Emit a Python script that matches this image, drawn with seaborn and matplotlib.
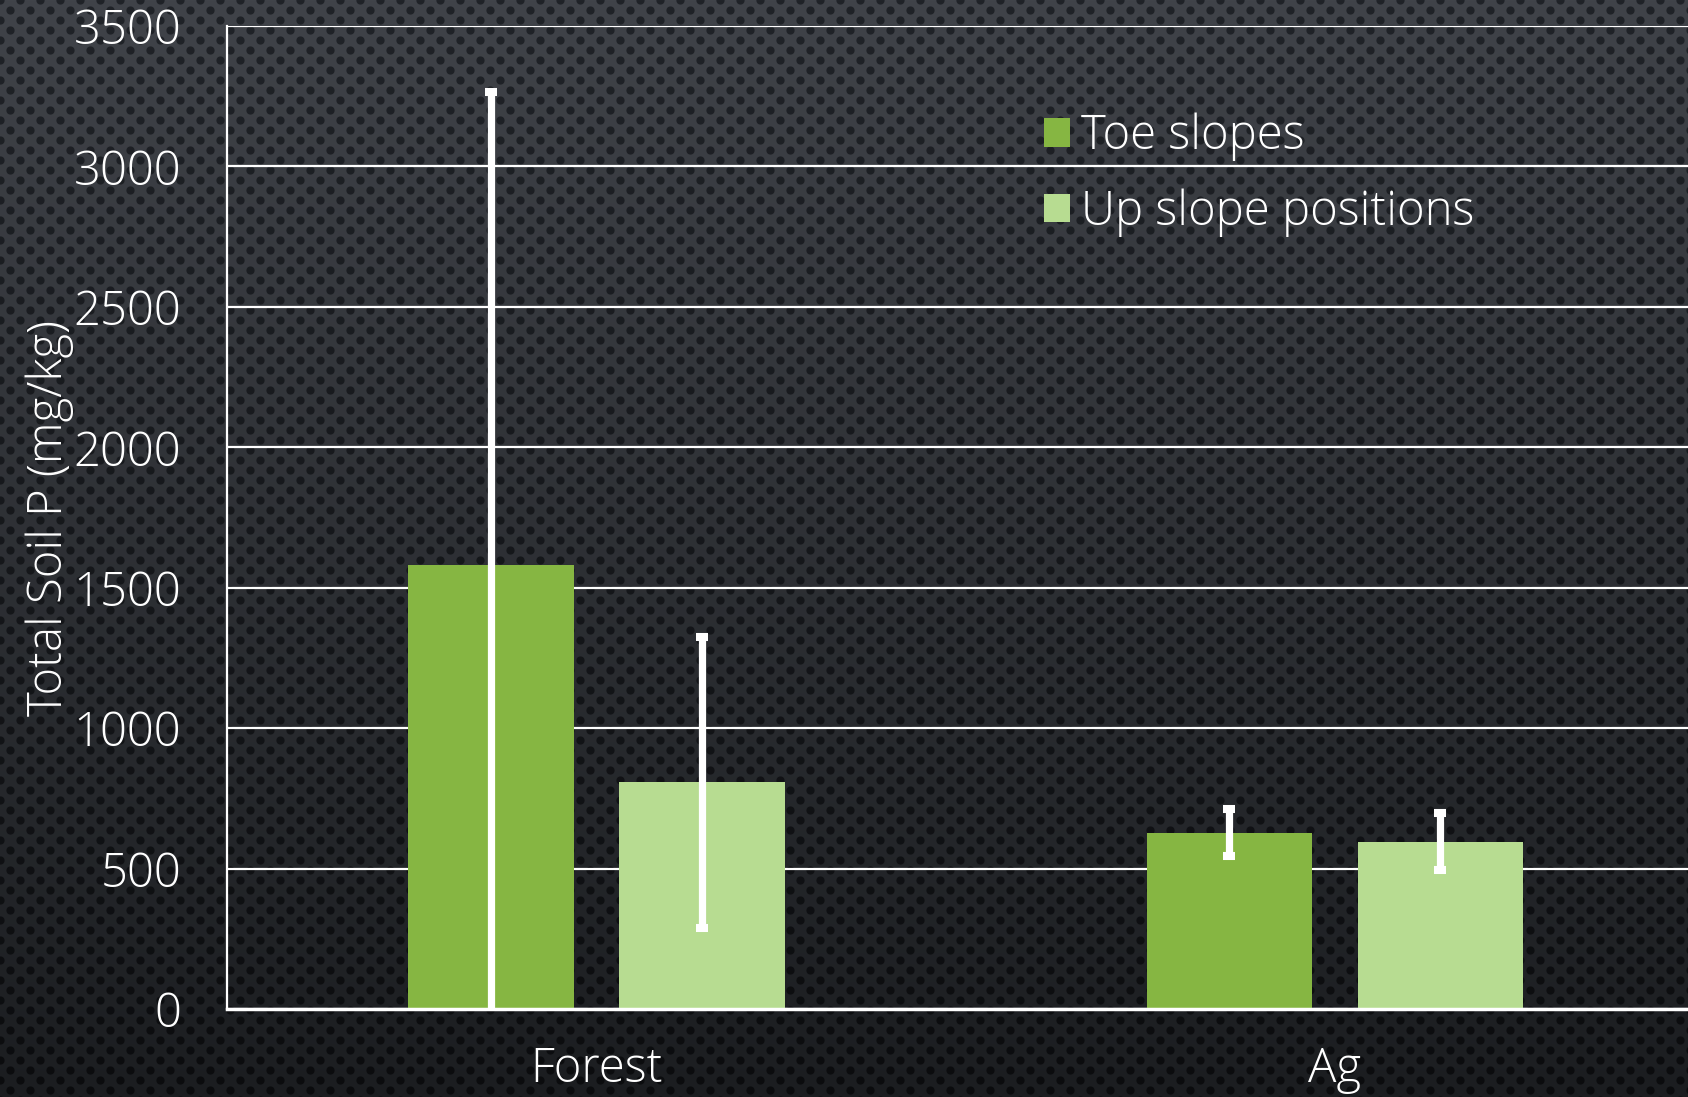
"""
Total soil P — toe slopes vs up slope positions, Forest vs Ag.
Bar chart with white error bars on a dark perforated background.
"""
import numpy as np
import pandas as pd
import matplotlib
matplotlib.use("Agg")
import matplotlib.pyplot as plt
import seaborn as sns

# ── Data ──────────────────────────────────────────────────────────────────
LAND_USE  = ["Forest", "Ag"]
POSITIONS = ["Toe slopes", "Up slope positions"]

TOE_MEAN = [1580, 628]
TOE_ERR  = [1685, 84]
UP_MEAN  = [807, 596]
UP_ERR   = [518, 101]

Y_TICKS = [0, 500, 1000, 1500, 2000, 2500, 3000, 3500]

COLORS = ["#86B642", "#B7DC91"]

df = pd.DataFrame({
    "land_use": LAND_USE * 2,
    "position": [POSITIONS[0]] * 2 + [POSITIONS[1]] * 2,
    "p":        TOE_MEAN + UP_MEAN,
    "err":      TOE_ERR + UP_ERR,
})

# ── Style ─────────────────────────────────────────────────────────────────
sns.set_theme(style="dark")
plt.rcParams["font.family"] = ["Open Sans", "DejaVu Sans"]
plt.rcParams["font.weight"] = 300
FS = 34

W, H = 1688, 1097
fig = plt.figure(figsize=(W / 100, H / 100), dpi=100)

# background: dark gradient with a staggered dot pattern
bg = fig.add_axes([0, 0, 1, 1], zorder=-10)
yy, xx = np.mgrid[0:H, 0:W].astype(float)
u = np.mod(xx, 20)
v = np.mod(yy, 20)
d = np.min(np.stack([
    np.hypot(u, v), np.hypot(u - 20, v), np.hypot(u, v - 20),
    np.hypot(u - 20, v - 20), np.hypot(u - 10, v - 10),
]), axis=0)
mask = np.clip(4.6 - d, 0, 1)[..., None]
t = (yy / H)[..., None]
base = np.array([64, 67, 73]) * (1 - t) + np.array([27, 29, 32]) * t
dots = np.array([32, 35, 40]) * (1 - t) + np.array([11, 12, 14]) * t
img = (base * (1 - mask) + dots * mask) / 255.0
bg.imshow(img, aspect="auto", interpolation="nearest")
bg.set_axis_off()

# ── Chart ─────────────────────────────────────────────────────────────────
ax = fig.add_axes([227 / W, 1 - 1009 / H, 1 - 227 / W, (1009 - 26) / H])
ax.set_facecolor("none")

sns.barplot(
    data=df, x="land_use", y="p", hue="position",
    palette=COLORS, saturation=1, width=0.571, gap=0.214,
    errorbar=None, linewidth=0, ax=ax,
)

# error bars on top of each bar
for container, pos in zip(ax.containers, POSITIONS):
    sub = df[df["position"] == pos]
    xs = [b.get_x() + b.get_width() / 2 for b in container]
    hs = [b.get_height() for b in container]
    ax.errorbar(xs, hs, yerr=sub["err"].to_numpy(), fmt="none",
                ecolor="white", elinewidth=5.2, capsize=4.3, capthick=5.8,
                zorder=5)

ax.set_ylim(0, 3500)
ax.set_xlim(-0.5, 1.478)
ax.set_yticks(Y_TICKS)
ax.yaxis.grid(True, color="white", linewidth=1.6)
ax.xaxis.grid(False)
ax.set_axisbelow(True)

for side in ["top", "right"]:
    ax.spines[side].set_visible(False)
ax.spines["left"].set_color("white")
ax.spines["left"].set_linewidth(1.6)
ax.spines["bottom"].set_color("white")
ax.spines["bottom"].set_linewidth(2.5)
ax.spines["bottom"].set_zorder(6)

ax.tick_params(axis="y", length=0, pad=33, labelsize=FS, labelcolor="white")
ax.tick_params(axis="x", length=0, pad=26, labelsize=FS, labelcolor="white")
for lbl in ax.get_xticklabels() + ax.get_yticklabels():
    lbl.set_fontweight(300)

ax.set_xlabel("")
ax.set_ylabel("Total Soil P (mg/kg)", fontsize=FS, color="white", fontweight=300)
ax.yaxis.set_label_coords(-0.105, 0.5)

old = ax.get_legend()
handles = old.legend_handles
labels = [tx.get_text() for tx in old.get_texts()]
leg = ax.legend(
    handles, labels, loc="upper left", bbox_to_anchor=(0.559, 0.912),
    frameon=False, fontsize=FS, labelcolor="white",
    handlelength=0.55, handleheight=0.55, handletextpad=0.25,
    labelspacing=0.58, borderpad=0, borderaxespad=0,
)
for tx in leg.get_texts():
    tx.set_fontweight(300)

fig.savefig("out.png", dpi=100)
